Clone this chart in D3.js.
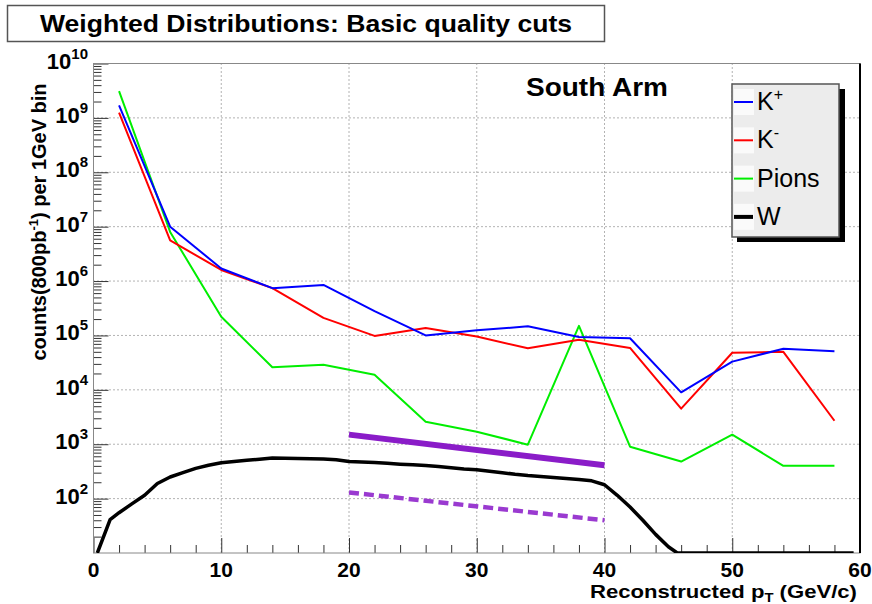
<!DOCTYPE html>
<html><head><meta charset="utf-8">
<script src="https://cdn.jsdelivr.net/npm/d3@7"></script>
<style>
html,body{margin:0;padding:0;background:#fff;}
svg text{font-family:"Liberation Sans",Arial,Helvetica,sans-serif;}
</style></head>
<body><svg id="c" width="872" height="604"></svg>
<script>
// ---- data ----
const kBins = [2, 6, 10, 14, 18, 22, 26, 30, 34, 38, 42, 46, 50, 54, 58];
const kPlus = [1.7e9, 1.0e7, 1.7e6, 7.4e5, 8.5e5, 2.8e5, 1.0e5, 1.24e5, 1.47e5, 9.4e4, 8.9e4, 9.0e3, 3.3e4, 5.7e4, 5.1e4];
const kMinus = [1.25e9, 5.6e6, 1.6e6, 7.4e5, 2.1e5, 9.8e4, 1.37e5, 9.6e4, 5.8e4, 8.3e4, 5.9e4, 4.5e3, 4.8e4, 5.0e4, 2.7e3];
const pions = [3.1e9, 8.0e6, 2.2e5, 2.6e4, 2.9e4, 1.9e4, 2.6e3, 1.7e3, 980, 1.5e5, 900, 480, 1.5e3, 400, 400];
const wX = [0.3, 1.3, 2, 3, 4, 5, 6, 7, 8, 9, 10, 11, 12, 13, 14, 15, 16, 17, 18, 19, 20, 21, 22, 23, 24, 25, 26, 27, 28, 29, 30, 31, 32, 33, 34, 35, 36, 37, 38, 39, 40, 41, 42, 43, 44, 45, 45.7, 47, 50, 55, 59.5];
const wY = [10, 41, 55, 80, 115, 190, 250, 300, 360, 410, 455, 480, 505, 530, 560, 550, 545, 540, 535, 520, 480, 470, 460, 445, 430, 420, 405, 390, 370, 350, 340, 320, 300, 280, 265, 255, 245, 235, 225, 212, 180, 115, 70, 40, 22, 13, 10, 1, 1, 1, 1];
const lineX = [20, 40];
const lineSolid = [1500, 410];
const lineDashed = [130, 40];
const xTicks = [0, 10, 20, 30, 40, 50, 60];
const yExps = [2, 3, 4, 5, 6, 7, 8, 9, 10];
const legendItems = [["K", "+", "#0000ff", 2], ["K", "-", "#ff0000", 2], ["Pions", "", "#00ee00", 2], ["W", "", "#000000", 4]];

// ---- layout ----
const L = 93.5, R = 860, T = 63.5, B = 553;
const svg = d3.select("#c");
const x = d3.scaleLinear().domain([0, 60]).range([L, R]);
const y = d3.scaleLog().domain([10, 1e10]).range([B, T]).clamp(true);

// grid
const grid = svg.append("g").attr("stroke", "#666").attr("stroke-width", 1).attr("stroke-dasharray", "1,3");
xTicks.slice(1, -1).forEach(v => grid.append("line").attr("x1", x(v)).attr("x2", x(v)).attr("y1", T).attr("y2", B));
yExps.slice(0, -1).forEach(e => grid.append("line").attr("x1", L).attr("x2", R).attr("y1", y(Math.pow(10, e))).attr("y2", y(Math.pow(10, e))));

// axes ticks
const minorY = [];
for (let e = 1; e < 10; e++) for (let m = 2; m <= 9; m++) minorY.push(m * Math.pow(10, e));
svg.append("g").attr("transform", `translate(${L},0)`)
  .call(d3.axisLeft(y).tickValues(minorY).tickSizeInner(-8).tickSizeOuter(0).tickFormat(""))
  .call(g => g.select(".domain").remove()).selectAll("line").attr("stroke", "#333");
svg.append("g").attr("transform", `translate(${L},0)`)
  .call(d3.axisLeft(y).tickValues(yExps.map(e => Math.pow(10, e))).tickSizeInner(-15).tickSizeOuter(0).tickFormat(""))
  .call(g => g.select(".domain").remove()).selectAll("line").attr("stroke", "#333");
const minorX = d3.range(2, 60, 2).filter(v => v % 10 !== 0);
svg.append("g").attr("transform", `translate(0,${B})`)
  .call(d3.axisBottom(x).tickValues(minorX).tickSizeInner(-8).tickSizeOuter(0).tickFormat(""))
  .call(g => g.select(".domain").remove()).selectAll("line").attr("stroke", "#333");
svg.append("g").attr("transform", `translate(0,${B})`)
  .call(d3.axisBottom(x).tickValues(xTicks).tickSizeInner(-15).tickSizeOuter(0).tickFormat(""))
  .call(g => g.select(".domain").remove()).selectAll("line").attr("stroke", "#333");

// frame
svg.append("rect").attr("x", L).attr("y", T).attr("width", R - L).attr("height", B - T)
  .attr("fill", "none").attr("stroke", "#888").attr("stroke-width", 1);
svg.append("line").attr("x1", R).attr("x2", R).attr("y1", T).attr("y2", B).attr("stroke", "#000").attr("stroke-width", 2);

// tick labels
svg.append("g").selectAll("text").data(xTicks).join("text")
  .attr("x", d => x(d)).attr("y", 577).attr("text-anchor", "middle")
  .attr("font-size", 21).attr("font-weight", "bold").text(d => d);
const yl = svg.append("g").selectAll("text").data(yExps).join("text")
  .attr("x", 88).attr("y", d => y(Math.pow(10, d)) + 5).attr("text-anchor", "end")
  .attr("font-size", 22).attr("font-weight", "bold");
yl.append("tspan").text("10");
yl.append("tspan").attr("dy", -10).attr("font-size", 15).text(d => d);

// axis titles
const xt = svg.append("text").attr("x", 590).attr("y", 598)
  .attr("font-size", 18).attr("font-weight", "bold")
  .attr("textLength", 267).attr("lengthAdjust", "spacingAndGlyphs");
xt.append("tspan").text("Reconstructed p");
xt.append("tspan").attr("dy", 4).attr("font-size", 12).text("T");
xt.append("tspan").attr("dy", -4).text(" (GeV/c)");

const ytl = svg.append("text").attr("transform", "translate(46,222) rotate(-90)").attr("text-anchor", "middle")
  .attr("font-size", 20).attr("font-weight", "bold");
ytl.append("tspan").text("counts(800pb");
ytl.append("tspan").attr("dy", -8).attr("font-size", 13).text("-1");
ytl.append("tspan").attr("dy", 8).text(") per 1GeV bin");

// data lines
const clipId = "clipP";
svg.append("clipPath").attr("id", clipId).append("rect").attr("x", L).attr("y", T - 2).attr("width", R - L).attr("height", B - T + 2);
const plot = svg.append("g").attr("clip-path", `url(#${clipId})`);
const ln = d3.line().x(d => x(d[0])).y(d => y(d[1]));
const series = [[pions, "#00ee00"], [kMinus, "#ff0000"], [kPlus, "#0000ff"]];
series.forEach(([vals, col]) => {
  plot.append("path").attr("d", ln(kBins.map((b, i) => [b, vals[i]])))
    .attr("fill", "none").attr("stroke", col).attr("stroke-width", 2).attr("stroke-linejoin", "round");
});
plot.append("path").attr("d", ln(wX.map((b, i) => [b, wY[i]])))
  .attr("fill", "none").attr("stroke", "#000").attr("stroke-width", 3.5).attr("stroke-linejoin", "round");
plot.append("path").attr("d", ln(lineX.map((b, i) => [b, lineSolid[i]])))
  .attr("fill", "none").attr("stroke", "#8a1cc8").attr("stroke-width", 6);
plot.append("path").attr("d", ln(lineX.map((b, i) => [b, lineDashed[i]])))
  .attr("fill", "none").attr("stroke", "#9a3ad0").attr("stroke-width", 4.5).attr("stroke-dasharray", "10,5");

// South Arm
svg.append("text").attr("x", 526).attr("y", 96).attr("font-size", 26).attr("font-weight", "bold")
  .attr("textLength", 142).attr("lengthAdjust", "spacingAndGlyphs").text("South Arm");

// legend
const lg = svg.append("g");
lg.append("rect").attr("x", 737).attr("y", 89).attr("width", 108).attr("height", 153).attr("fill", "#000");
lg.append("rect").attr("x", 732).attr("y", 84).attr("width", 107).attr("height", 153).attr("fill", "#ececec").attr("stroke", "#555").attr("stroke-width", 1.5);
legendItems.forEach((it, i) => {
  const cy = 102 + i * 38.3;
  lg.append("rect").attr("x", 734).attr("y", cy - 13).attr("width", 20).attr("height", 26).attr("fill", "#fafafa");
  lg.append("line").attr("x1", 734).attr("x2", 753).attr("y1", cy).attr("y2", cy).attr("stroke", it[2]).attr("stroke-width", it[3]);
  const t = lg.append("text").attr("x", 757).attr("y", cy + 8).attr("font-size", 25);
  t.append("tspan").text(it[0]);
  if (it[1]) t.append("tspan").attr("dy", -10).attr("font-size", 16).text(it[1]);
});

// title box
svg.append("rect").attr("x", 7.5).attr("y", 5.5).attr("width", 597).attr("height", 36)
  .attr("fill", "#fff").attr("stroke", "#555").attr("stroke-width", 1.5);
svg.append("text").attr("x", 40).attr("y", 32)
  .attr("font-size", 24).attr("font-weight", "bold")
  .attr("textLength", 532).attr("lengthAdjust", "spacingAndGlyphs").text("Weighted Distributions: Basic quality cuts");
</script></body></html>
